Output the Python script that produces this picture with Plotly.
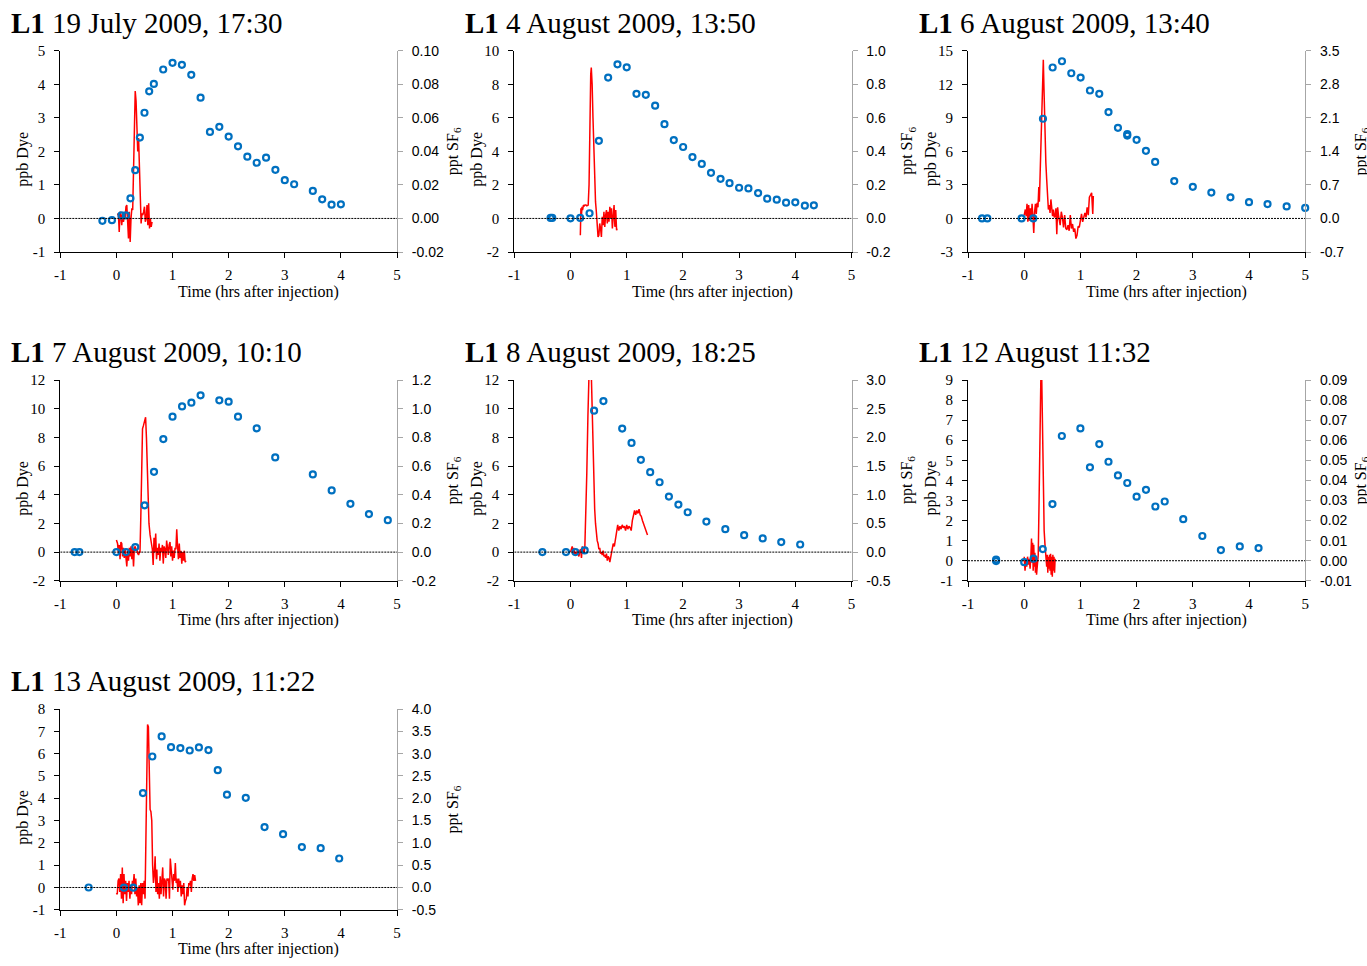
import plotly.graph_objects as go

# ---------------- data ----------------
TITLES = ["19 July 2009, 17:30", "4 August 2009, 13:50", "6 August 2009, 13:40",
          "7 August 2009, 10:10", "8 August 2009, 18:25", "12 August 11:32",
          "13 August 2009, 11:22"]
SITE = "L1"
X_TITLE = "Time (hrs after injection)"
DYE_TITLE = "ppb Dye"
SF6_TITLE = "ppt SF<sub>6</sub>"
X_TICKS = [-1, 0, 1, 2, 3, 4, 5]

# Panel 1
P1_SF6_T = [-0.25, -0.08, 0.09, 0.17, 0.25, 0.335, 0.418, 0.5, 0.584, 0.667, 0.834, 1.0, 1.167, 1.334, 1.5, 1.667,
            1.834, 2.0, 2.167, 2.333, 2.5, 2.667, 2.833, 3.0, 3.167, 3.5, 3.667, 3.834, 4.0]
P1_SF6 = [-0.0014, -0.001, 0.0018, 0.0018, 0.012, 0.0288, 0.0482, 0.063, 0.0758, 0.0802, 0.0888, 0.0928, 0.0916,
          0.0856, 0.072, 0.0516, 0.0546, 0.0488, 0.043, 0.0368, 0.0332, 0.0362, 0.029, 0.0228, 0.0204, 0.0164,
          0.0114, 0.0082, 0.0084]
P1_DYE_T = [0.02, 0.035, 0.05, 0.065, 0.08, 0.095, 0.11, 0.125, 0.14, 0.155, 0.17, 0.185, 0.2, 0.215, 0.23, 0.245,
            0.26, 0.275, 0.29, 0.305, 0.32, 0.335, 0.35, 0.365, 0.38, 0.395, 0.41, 0.425, 0.44, 0.455, 0.47, 0.485,
            0.5, 0.515, 0.53, 0.545, 0.56, 0.575, 0.59, 0.605, 0.62, 0.635]
P1_DYE = [0.1, 0.15, -0.4, 0.2, 0.1, -0.2, 0.15, -0.1, 0.05, 0.0, 0.35, 0.4, -0.1, -0.6, 0.2, -0.7, 0.0, 0.3, 0.25,
          1.5, 3.2, 3.8, 3.5, 2.8, 2.0, 2.4, 1.4, 0.1, -0.15, 0.15, 0.1, 0.2, 0.35, -0.1, 0.0, 0.4, -0.2, 0.45, -0.3,
          0.0, -0.25, -0.1]

# Panel 2
P2_SF6_T = [-0.354, -0.325, 0.0, 0.173, 0.339, 0.505, 0.67, 0.836, 1.0, 1.174, 1.34, 1.506, 1.672, 1.838, 2.004,
            2.17, 2.336, 2.5, 2.67, 2.83, 3.0, 3.166, 3.338, 3.5, 3.67, 3.836, 4.0, 4.17, 4.33]
P2_SF6 = [0.003, 0.003, 0.001, 0.003, 0.031, 0.463, 0.840, 0.919, 0.901, 0.743, 0.737, 0.672, 0.562, 0.467, 0.426,
          0.366, 0.325, 0.272, 0.236, 0.210, 0.183, 0.179, 0.151, 0.118, 0.112, 0.094, 0.096, 0.076, 0.078]
P2_DYE_T = [0.175, 0.185, 0.195, 0.205, 0.215, 0.23, 0.245, 0.26, 0.275, 0.29, 0.305, 0.315, 0.33, 0.345, 0.36,
            0.37, 0.385, 0.40, 0.415, 0.43, 0.445, 0.46, 0.475, 0.49, 0.505, 0.52, 0.535, 0.55, 0.565, 0.58, 0.595,
            0.61, 0.625, 0.64, 0.655, 0.67, 0.685, 0.70, 0.715, 0.73, 0.745, 0.76, 0.775, 0.79, 0.805, 0.82, 0.83]
P2_DYE = [-1.0, 0.6, 0.2, 0.7, 0.5, 0.8, 0.75, 0.8, 0.8, 0.75, 0.8, 0.8, 2.0, 6.0, 8.6, 9.0, 8.0, 6.0, 4.0, 2.2,
          1.0, 0.4, -0.2, -1.1, -1.0, -0.3, -0.6, -1.1, 0.1, -0.4, 0.4, -0.5, 0.2, 0.5, -0.3, 0.4, -0.2, 0.7, 0.0,
          0.6, -0.6, 0.3, 0.8, -0.5, 0.5, -0.7, -0.6]

# Panel 3
P3_SF6_T = [-0.75, -0.656, -0.046, 0.162, 0.334, 0.506, 0.672, 0.838, 1.004, 1.17, 1.336, 1.5, 1.668, 1.834, 1.834,
            2.0, 2.166, 2.33, 2.67, 3.0, 3.33, 3.67, 4.0, 4.33, 4.67, 5.0]
P3_SF6 = [0, 0, 0, 0, 2.08, 3.15, 3.28, 3.03, 2.94, 2.67, 2.60, 2.22, 1.89, 1.76, 1.73, 1.64, 1.41, 1.18, 0.78,
          0.66, 0.54, 0.44, 0.34, 0.30, 0.25, 0.22]
P3_DYE_T = [0.0, 0.02, 0.035, 0.05, 0.065, 0.08, 0.095, 0.11, 0.125, 0.14, 0.155, 0.17, 0.185, 0.2, 0.215, 0.23,
            0.245, 0.26, 0.27, 0.285, 0.3, 0.315, 0.33, 0.34, 0.355, 0.37, 0.385, 0.4, 0.415, 0.43, 0.445, 0.46,
            0.475, 0.49, 0.505, 0.52, 0.535, 0.55, 0.565, 0.58, 0.595, 0.61, 0.625, 0.64, 0.66, 0.68, 0.7, 0.72,
            0.74, 0.76, 0.78, 0.8, 0.82, 0.84, 0.86, 0.88, 0.9, 0.92, 0.94, 0.96, 0.98, 1.0, 1.02, 1.04, 1.06, 1.08,
            1.1, 1.12, 1.14, 1.16, 1.18, 1.2, 1.22, 1.23]
P3_DYE = [0.3, 0.8, 0.2, 1.3, -0.3, 1.2, -0.2, 0.9, 0.0, 1.3, 0.2, -1.3, 0.6, 1.3, 0.4, 1.4, 1.0, 2.8, 1.5, 4.5,
          8.0, 11.5, 13.5, 14.2, 11.0, 7.0, 5.0, 3.5, 2.0, 0.8, 1.2, 0.5, 1.7, 0.4, 0.2, 0.8, 0.1, 0.2, 0.9, -1.4,
          1.0, 0.3, -0.3, -0.6, 0.6, 0.1, -0.8, 0.3, -0.9, -1.0, -0.6, -1.1, 0.3, -0.9, -0.5, -1.2, -0.9, -1.8,
          -1.5, -0.7, -0.8, -0.2, 0.4, -0.3, 0.2, 0.5, 0.1, 1.0, 0.3, 1.9, 2.1, 2.3, 0.4, 2.0]

# Panel 4
P4_SF6_T = [-0.744, -0.66, 0.0, 0.17, 0.337, 0.503, 0.67, 0.836, 1.0, 1.17, 1.336, 1.5, 1.834, 2.0, 2.167, 2.5,
            2.83, 3.5, 3.836, 4.17, 4.5, 4.836]
P4_SF6 = [0, 0, 0, 0, 0.035, 0.326, 0.560, 0.788, 0.944, 1.016, 1.042, 1.093, 1.058, 1.049, 0.944, 0.863, 0.660,
          0.542, 0.430, 0.337, 0.265, 0.223]
P4_DYE_T = [0.0, 0.02, 0.035, 0.05, 0.065, 0.08, 0.095, 0.11, 0.125, 0.14, 0.155, 0.17, 0.185, 0.2, 0.215, 0.23,
            0.245, 0.26, 0.275, 0.29, 0.305, 0.32, 0.335, 0.35, 0.365, 0.38, 0.395, 0.41, 0.42, 0.435, 0.45, 0.465,
            0.48, 0.5, 0.52, 0.535, 0.55, 0.565, 0.58, 0.6, 0.62, 0.64, 0.655, 0.67, 0.685, 0.7, 0.715, 0.73,
            0.745, 0.76, 0.775, 0.79, 0.805, 0.82, 0.835, 0.85, 0.865, 0.88, 0.895, 0.91, 0.925, 0.94, 0.955, 0.97,
            0.985, 1.0, 1.015, 1.03, 1.045, 1.06, 1.075, 1.09, 1.105, 1.12, 1.135, 1.15, 1.165, 1.18, 1.195, 1.21,
            1.225, 1.24]
P4_DYE = [0.85, 0.6, -0.1, 0.5, -0.5, 0.7, 0.6, -0.3, 0.3, -0.4, 0.2, -0.4, -1.0, 0.1, -0.6, 0.3, -0.3, 0.4, -0.5,
          0.2, -1.0, 0.3, 0.4, 0.1, 0.2, -0.1, -0.2, 0.0, 0.0, 2.5, 6.5, 8.6, 8.8, 9.2, 9.4, 8.0, 5.5, 3.5, 2.0,
          1.2, 0.6, 0.2, -0.9, 1.0, 0.0, 1.3, -0.5, 0.3, -0.2, 0.6, -0.6, 0.3, 0.0, 0.5, -0.8, 0.4, 0.2, -0.4, 0.8,
          0.1, -0.2, 0.5, 0.7, -0.3, 0.4, -0.6, 0.1, -0.4, 0.3, 0.2, 1.6, 0.4, -0.5, 0.6, -0.4, 0.1, -0.8, 0.0,
          -0.6, 0.1, -0.7, -0.6]

# Panel 5
P5_SF6_T = [-0.5, -0.08, 0.087, 0.253, 0.42, 0.586, 0.92, 1.086, 1.252, 1.418, 1.585, 1.751, 1.92, 2.085, 2.418,
            2.755, 3.09, 3.42, 3.75, 4.087]
P5_SF6 = [0, 0, 0, 0.03, 2.465, 2.633, 2.153, 1.903, 1.608, 1.393, 1.218, 0.968, 0.828, 0.695, 0.533, 0.40, 0.295,
          0.238, 0.175, 0.133]
P5_DYE_T = [0.0, 0.015, 0.03, 0.045, 0.06, 0.075, 0.09, 0.105, 0.12, 0.135, 0.15, 0.165, 0.18, 0.195, 0.21, 0.225,
            0.24, 0.255, 0.27, 0.29, 0.31, 0.33, 0.35, 0.37, 0.385, 0.4, 0.415, 0.43, 0.445, 0.46, 0.475, 0.49,
            0.505, 0.52, 0.535, 0.55, 0.565, 0.58, 0.595, 0.61, 0.625, 0.64, 0.655, 0.67, 0.685, 0.7, 0.72, 0.74,
            0.76, 0.78, 0.8, 0.82, 0.84, 0.86, 0.88, 0.9, 0.92, 0.94, 0.96, 0.98, 1.0, 1.02, 1.04, 1.06, 1.08, 1.1,
            1.12, 1.14, 1.16, 1.18, 1.2, 1.22, 1.24, 1.26, 1.28, 1.3, 1.32, 1.345, 1.37]
P5_DYE = [0.0, 0.2, 0.4, -0.1, 0.3, -0.2, 0.0, -0.2, 0.1, -0.1, -0.3, 0.1, 0.2, -0.4, 0.4, 0.1, -0.1, 0.3, 2.0,
          5.5, 9.5, 13.5, 15.5, 12.5, 9.5, 7.0, 4.5, 3.0, 2.0, 1.3, 0.8, 0.6, 0.2, 0.3, -0.1, 0.0, -0.2, 0.1, -0.3,
          -0.2, -0.4, -0.1, -0.6, -0.3, -0.4, -0.7, -0.3, 0.3, 0.6, 0.4, 1.0, 1.4, 1.9, 1.5, 1.8, 1.6, 1.9, 1.7,
          1.8, 1.5, 1.9, 1.6, 1.8, 1.7, 1.5, 2.2, 2.6, 2.9, 2.6, 2.9, 2.7, 3.0, 2.6, 2.5, 2.2, 2.0, 1.8, 1.5, 1.2]

# Panel 6
P6_SF6_T = [-0.5, -0.5, 0.0, 0.166, 0.33, 0.503, 0.67, 1.0, 1.17, 1.336, 1.5, 1.668, 1.834, 2.0, 2.167, 2.334,
            2.5, 2.83, 3.17, 3.5, 3.836, 4.17]
P6_SF6 = [0.0006, -0.0002, -0.0007, 0.0010, 0.0058, 0.0282, 0.0621, 0.0659, 0.0465, 0.0581, 0.0493, 0.0425,
          0.0387, 0.0319, 0.0353, 0.0270, 0.0295, 0.0207, 0.0123, 0.0053, 0.0071, 0.0063]
P6_DYE_T = [0.0, 0.015, 0.03, 0.045, 0.06, 0.075, 0.09, 0.105, 0.12, 0.13, 0.14, 0.15, 0.16, 0.17, 0.18, 0.19,
            0.2, 0.21, 0.22, 0.235, 0.25, 0.265, 0.28, 0.29, 0.3, 0.31, 0.325, 0.34, 0.355, 0.37, 0.385, 0.4, 0.41,
            0.42, 0.43, 0.44, 0.45, 0.46, 0.47, 0.48, 0.49, 0.5, 0.51, 0.52, 0.53, 0.54, 0.55]
P6_DYE = [0.2, -0.5, 0.1, -0.3, 0.2, -0.2, 0.1, -0.4, 0.3, 1.1, -0.1, 0.9, -0.5, 0.8, -0.3, 0.4, -0.6, 0.1, -0.7,
          0.2, 0.3, 3.0, 7.5, 9.5, 9.8, 9.5, 7.0, 3.5, 1.5, 0.8, 0.2, -0.3, 0.3, -0.6, 0.2, -0.4, 0.3, -0.5, 0.35,
          -0.7, 0.2, -0.8, 0.3, -0.5, 0.2, -0.6, 0.1]

# Panel 7
P7_SF6_T = [-0.495, 0.135, 0.30, 0.473, 0.64, 0.806, 0.973, 1.14, 1.306, 1.47, 1.64, 1.806, 1.97, 2.305, 2.64,
            2.97, 3.305, 3.64, 3.97]
P7_SF6 = [0, -0.005, -0.005, 2.115, 2.935, 3.385, 3.145, 3.125, 3.07, 3.14, 3.08, 2.63, 2.08, 2.01, 1.355, 1.195,
          0.905, 0.88, 0.65]
P7_DYE_T = [0.0, 0.015, 0.03, 0.045, 0.06, 0.075, 0.09, 0.105, 0.12, 0.135, 0.15, 0.165, 0.18, 0.195, 0.21, 0.225,
            0.24, 0.255, 0.27, 0.285, 0.3, 0.315, 0.33, 0.345, 0.36, 0.375, 0.39, 0.405, 0.42, 0.435, 0.45, 0.465,
            0.48, 0.495, 0.51, 0.525, 0.54, 0.555, 0.57, 0.585, 0.6, 0.615, 0.63, 0.645, 0.66, 0.675, 0.69, 0.705,
            0.72, 0.735, 0.75, 0.765, 0.78, 0.795, 0.81, 0.825, 0.84, 0.855, 0.87, 0.885, 0.9, 0.915, 0.93, 0.945,
            0.96, 0.975, 0.99, 1.005, 1.02, 1.035, 1.05, 1.065, 1.08, 1.095, 1.11, 1.125, 1.14, 1.155, 1.17, 1.185,
            1.2, 1.215, 1.23, 1.245, 1.26, 1.275, 1.29, 1.305, 1.32, 1.335, 1.35, 1.365, 1.38, 1.395, 1.41]
P7_DYE = [-0.25, -0.3, 0.3, 0.4, -0.2, 0.6, -0.5, 0.9, -0.7, 0.6, -0.3, 0.3, -0.6, 0.2, -0.2, 0.3, -0.5, 0.1, -0.3,
          0.3, 0.1, 0.6, -0.3, 0.4, -0.4, 0.0, -0.8, 0.1, -0.7, 0.2, -0.8, 0.2, -0.3, 0.3, -0.5, 2.5, 6.0, 7.3, 7.2,
          5.0, 3.5, 3.4, 3.0, 1.0, 0.2, 0.6, 1.4, -0.2, 0.8, -0.3, 0.2, -0.5, 0.5, -0.3, 0.4, 0.9, -0.4, 0.4, 0.3,
          -0.5, 0.4, 0.3, 0.4, -0.5, 1.3, 0.9, 0.3, -0.1, 0.6, 0.3, 1.1, 0.2, 0.4, -0.2, 0.4, 0.0, 0.3, -0.4, 0.1,
          -0.3, 0.2, -0.8, -0.6, -0.5, 0.0, -0.4, 0.2, 0.1, 0.3, -0.2, 0.4, 0.6, 0.3, 0.55, 0.3]

# Axis ticks (left: ppb Dye, right: ppt SF6)
DYE_TICKS = [[-1, 0, 1, 2, 3, 4, 5], [-2, 0, 2, 4, 6, 8, 10], [-3, 0, 3, 6, 9, 12, 15],
             [-2, 0, 2, 4, 6, 8, 10, 12], [-2, 0, 2, 4, 6, 8, 10, 12], [-1, 0, 1, 2, 3, 4, 5, 6, 7, 8, 9],
             [-1, 0, 1, 2, 3, 4, 5, 6, 7, 8]]
SF6_TICKS = [[-0.02, 0.0, 0.02, 0.04, 0.06, 0.08, 0.10], [-0.2, 0.0, 0.2, 0.4, 0.6, 0.8, 1.0],
             [-0.7, 0.0, 0.7, 1.4, 2.1, 2.8, 3.5], [-0.2, 0.0, 0.2, 0.4, 0.6, 0.8, 1.0, 1.2],
             [-0.5, 0.0, 0.5, 1.0, 1.5, 2.0, 2.5, 3.0],
             [-0.01, 0.0, 0.01, 0.02, 0.03, 0.04, 0.05, 0.06, 0.07, 0.08, 0.09],
             [-0.5, 0.0, 0.5, 1.0, 1.5, 2.0, 2.5, 3.0, 3.5, 4.0]]
SF6_DECIMALS = [2, 1, 1, 1, 1, 2, 1]

DYE_T = [P1_DYE_T, P2_DYE_T, P3_DYE_T, P4_DYE_T, P5_DYE_T, P6_DYE_T, P7_DYE_T]
DYE = [P1_DYE, P2_DYE, P3_DYE, P4_DYE, P5_DYE, P6_DYE, P7_DYE]
SF6_T = [P1_SF6_T, P2_SF6_T, P3_SF6_T, P4_SF6_T, P5_SF6_T, P6_SF6_T, P7_SF6_T]
SF6 = [P1_SF6, P2_SF6, P3_SF6, P4_SF6, P5_SF6, P6_SF6, P7_SF6]

# ---------------- layout geometry (pixels) ----------------
W, H = 1367, 966
COLS = [(60.3, 397.0), (514.3, 851.5), (968.0, 1305.2)]
ROWS = [(50.7, 252.0), (380.0, 580.8), (709.0, 909.8)]

SERIF = "Liberation Serif"
SANS = "Liberation Sans"
RED = "#FF0000"
BLUE = "#0070C0"


def fx(px):
    return px / W


def fy(py):
    return 1 - py / H


def lab(v, d):
    return f"{v:.{d}f}"


fig = go.Figure()
layout = dict(width=W, height=H, margin=dict(l=0, r=0, t=0, b=0, pad=0), autosize=False,
              paper_bgcolor="white", plot_bgcolor="white", showlegend=False, template="none")
annotations = []
shapes = []

for i in range(7):
    n = i + 1
    r, c = divmod(i, 3)
    (x0, x1), (y0, y1) = COLS[c], ROWS[r]
    xa = "x" if n == 1 else f"x{n}"
    yl = "y" if n == 1 else f"y{2 * n - 1}"
    yr = f"y{2 * n}"
    xkey = "xaxis" if n == 1 else f"xaxis{n}"
    ylkey = "yaxis" if n == 1 else f"yaxis{2 * n - 1}"
    yrkey = f"yaxis{2 * n}"

    fig.add_trace(go.Scatter(x=DYE_T[i], y=DYE[i], xaxis=xa, yaxis=yl, mode="lines",
                             line=dict(color=RED, width=1.5), hoverinfo="skip"))
    fig.add_trace(go.Scatter(x=SF6_T[i], y=SF6[i], xaxis=xa, yaxis=yr, mode="markers", cliponaxis=False,
                             marker=dict(symbol="circle-open", size=6, color=BLUE,
                                         line=dict(width=2.2, color=BLUE))))

    layout[xkey] = dict(domain=[fx(x0), fx(x1)], anchor=yl, range=[-1, 5], automargin=False,
                        tickvals=X_TICKS, ticktext=[str(v) for v in X_TICKS],
                        ticks="outside", ticklen=5, tickcolor="black", tickwidth=1,
                        showline=True, linecolor="black", linewidth=1, showgrid=False, zeroline=False,
                        tickfont=dict(family=SERIF, size=15, color="black"), ticklabelstandoff=4,
                        fixedrange=True)
    dt = DYE_TICKS[i]
    layout[ylkey] = dict(domain=[fy(y1), fy(y0)], anchor=xa, range=[dt[0], dt[-1]], automargin=False,
                         tickvals=dt, ticktext=[str(v) for v in dt],
                         ticks="outside", ticklen=5, tickcolor="black", tickwidth=1,
                         showline=True, linecolor="black", linewidth=1, showgrid=False, zeroline=False,
                         tickfont=dict(family=SERIF, size=15, color="black"), ticklabelstandoff=6,
                         fixedrange=True)
    st = SF6_TICKS[i]
    layout[yrkey] = dict(overlaying=yl, side="right", anchor=xa, range=[st[0], st[-1]], automargin=False,
                         tickvals=st, ticktext=[lab(v, SF6_DECIMALS[i]) for v in st],
                         ticks="outside", ticklen=5, tickcolor="#A6A6A6", tickwidth=1,
                         showline=True, linecolor="#A6A6A6", linewidth=1, showgrid=False, zeroline=False,
                         tickfont=dict(family=SANS, size=14, color="black"), ticklabelstandoff=6,
                         fixedrange=True)

    # dotted zero line
    shapes.append(dict(type="line", xref=xa, yref=yl, x0=-1, x1=5, y0=0, y1=0,
                       line=dict(color="black", width=1, dash="2px,1px"), layer="above"))

    # panel title
    annotations.append(dict(xref="paper", yref="paper", x=fx(x0 - 51), y=fy(y0 - 28),
                            xanchor="left", yanchor="middle", showarrow=False,
                            text=f"<b>{SITE}</b> {TITLES[i]}",
                            font=dict(family=SERIF, size=29, color="black")))
    # x title
    annotations.append(dict(xref="paper", yref="paper", x=fx(x0 + 198), y=fy(y1 + 39.5),
                            xanchor="center", yanchor="middle", showarrow=False, text=X_TITLE,
                            font=dict(family=SERIF, size=16, color="black")))
    # left title
    annotations.append(dict(xref="paper", yref="paper", x=fx(x0 - 37), y=fy((y0 + y1) / 2 + 8),
                            xanchor="center", yanchor="middle", showarrow=False, text=DYE_TITLE,
                            textangle=-90, font=dict(family=SERIF, size=16, color="black")))
    # right title
    annotations.append(dict(xref="paper", yref="paper", x=fx(x1 + 56), y=fy((y0 + y1) / 2),
                            xanchor="center", yanchor="middle", showarrow=False, text=SF6_TITLE,
                            textangle=-90, font=dict(family=SERIF, size=16, color="black")))

layout["annotations"] = annotations
layout["shapes"] = shapes
fig.update_layout(**layout)
fig.write_html("out.html")
